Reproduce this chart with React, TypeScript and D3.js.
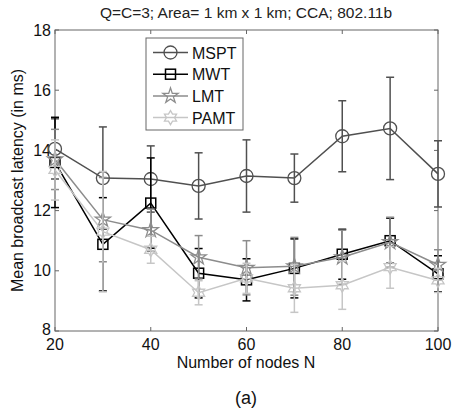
import React from "react";
import * as d3 from "d3";

const nodes = [20, 30, 40, 50, 60, 70, 80, 90, 100];
const mspt = [14.05, 13.08, 13.05, 12.82, 13.15, 13.08, 14.47, 14.73, 13.22];
const msptErr = [1.0, 1.7, 1.1, 1.1, 1.2, 0.8, 1.18, 1.7, 1.1];
const mwt = [13.6, 10.88, 12.25, 9.92, 9.7, 10.08, 10.55, 11.0, 9.9];
const mwtErr = [1.5, 1.55, 1.5, 0.82, 0.7, 0.98, 0.83, 0.75, 0.6];
const lmt = [13.7, 11.7, 11.35, 10.45, 10.1, 10.15, 10.45, 10.95, 10.2];
const lmtErr = [1.0, 1.4, 0.7, 0.72, 0.9, 0.96, 0.9, 0.83, 0.5];
const pamt = [13.35, 11.3, 10.7, 9.27, 9.75, 9.42, 9.52, 10.12, 9.68];
const pamtErr = [1.0, 2.0, 0.45, 0.4, 0.5, 0.8, 0.8, 0.7, 0.4];
const xTicks = [20, 40, 60, 80, 100];
const yTicks = [8, 10, 12, 14, 16, 18];
const seriesNames = ["MSPT", "MWT", "LMT", "PAMT"];

const FONT = "'Liberation Sans', Arial, Helvetica, sans-serif";

function hexagram(r: number) {
  const pts: string[] = [];
  const ri = r * 0.5774;
  for (let i = 0; i < 12; i++) {
    const a = (Math.PI / 6) * i - Math.PI / 2;
    const rr = i % 2 === 0 ? r : ri;
    pts.push(`${(rr * Math.cos(a)).toFixed(2)},${(rr * Math.sin(a)).toFixed(2)}`);
  }
  return "M" + pts.join("L") + "Z";
}

function pentagram(r: number) {
  const pts: string[] = [];
  const ri = r * 0.382;
  for (let i = 0; i < 10; i++) {
    const a = (Math.PI / 5) * i - Math.PI / 2;
    const rr = i % 2 === 0 ? r : ri;
    pts.push(`${(rr * Math.cos(a)).toFixed(2)},${(rr * Math.sin(a)).toFixed(2)}`);
  }
  return "M" + pts.join("L") + "Z";
}

function Marker({ kind, x, y, color }: { kind: string; x: number; y: number; color: string }) {
  if (kind === "circle")
    return <circle cx={x} cy={y} r={6.5} fill="none" stroke={color} strokeWidth={1.3} />;
  if (kind === "square")
    return <rect x={x - 5} y={y - 5} width={10} height={10} fill="none" stroke={color} strokeWidth={1.5} />;
  if (kind === "pent")
    return <path d={pentagram(8)} transform={`translate(${x},${y})`} fill="none" stroke={color} strokeWidth={1.3} />;
  return <path d={hexagram(7)} transform={`translate(${x},${y})`} fill="none" stroke={color} strokeWidth={1.3} />;
}

export default function App() {
  const W = 452, H = 412;
  const left = 55, right = 438, top = 30, bottom = 331;
  const x = d3.scaleLinear().domain([20, 100]).range([left, right]);
  const y = d3.scaleLinear().domain([8, 18]).range([bottom, top]);
  const line = d3.line<number>().x((_, i) => x(nodes[i])).y((d) => y(d));

  const series = [
    { name: seriesNames[0], vals: mspt, err: msptErr, color: "#505050", kind: "circle" },
    { name: seriesNames[1], vals: mwt, err: mwtErr, color: "#000000", kind: "square" },
    { name: seriesNames[2], vals: lmt, err: lmtErr, color: "#8c8c8c", kind: "pent" },
    { name: seriesNames[3], vals: pamt, err: pamtErr, color: "#c6c6c6", kind: "hex" },
  ];
  const cap = 4;
  const axisColor = "#666";

  return (
    <svg width={W} height={H} style={{ position: "absolute", left: 0, top: 0, background: "#fff" }} fontFamily={FONT}>
      <rect x={0} y={0} width={W} height={H} fill="#fff" />
      <text x={246} y={18} fontSize={15.5} textAnchor="middle" fill="#222">
        Q=C=3; Area= 1 km x 1 km; CCA; 802.11b
      </text>
      {/* axes box */}
      <rect x={left} y={top} width={right - left} height={bottom - top} fill="none" stroke={axisColor} strokeWidth={1} />
      {xTicks.map((t) => (
        <g key={"xt" + t}>
          <line x1={x(t)} x2={x(t)} y1={bottom} y2={bottom - 4} stroke={axisColor} />
          <line x1={x(t)} x2={x(t)} y1={top} y2={top + 4} stroke={axisColor} />
          <text x={x(t)} y={bottom + 18.5} fontSize={16} textAnchor="middle" fill="#111">
            {t}
          </text>
        </g>
      ))}
      {yTicks.map((t) => (
        <g key={"yt" + t}>
          <line x1={left} x2={left + 4} y1={y(t)} y2={y(t)} stroke={axisColor} />
          <line x1={right} x2={right - 4} y1={y(t)} y2={y(t)} stroke={axisColor} />
          <text x={left - 4} y={y(t) + (t === 8 ? 4 : 5.5)} fontSize={16} textAnchor="end" fill="#111">
            {t}
          </text>
        </g>
      ))}
      <text x={246} y={368} fontSize={16} textAnchor="middle" fill="#111">
        Number of nodes N
      </text>
      <text x={246} y={404} fontSize={18} textAnchor="middle" fill="#111">
        (a)
      </text>
      <text transform={`translate(23,${(top + bottom) / 2}) rotate(-90)`} fontSize={16} textAnchor="middle" fill="#111">
        Mean broadcast latency (in ms)
      </text>
      {/* series */}
      {series.map((s) => (
        <g key={s.name}>
          {s.vals.map((v, i) => {
            const cx = x(nodes[i]);
            const y1 = y(v + s.err[i]);
            const y2 = y(v - s.err[i]);
            return (
              <g key={i} stroke={s.color} strokeWidth={1.5}>
                <line x1={cx} x2={cx} y1={y1} y2={y2} />
                <line x1={cx - cap} x2={cx + cap} y1={y1} y2={y1} />
                <line x1={cx - cap} x2={cx + cap} y1={y2} y2={y2} />
              </g>
            );
          })}
          <path d={line(s.vals) || ""} fill="none" stroke={s.color} strokeWidth={1.5} />
          {s.vals.map((v, i) => (
            <Marker key={"m" + i} kind={s.kind} x={x(nodes[i])} y={y(v)} color={s.color} />
          ))}
        </g>
      ))}
      {/* legend */}
      <rect x={146} y={38} width={97} height={92} fill="#fff" stroke={axisColor} strokeWidth={1} />
      {series.map((s, i) => {
        const ly = 52.5 + i * 21.7;
        return (
          <g key={"lg" + s.name}>
            <line x1={153} x2={188} y1={ly} y2={ly} stroke={s.color} strokeWidth={1.5} />
            <Marker kind={s.kind} x={170.5} y={ly} color={s.color} />
            <text x={192} y={ly + 6} fontSize={16} fill="#111">
              {s.name}
            </text>
          </g>
        );
      })}
    </svg>
  );
}
